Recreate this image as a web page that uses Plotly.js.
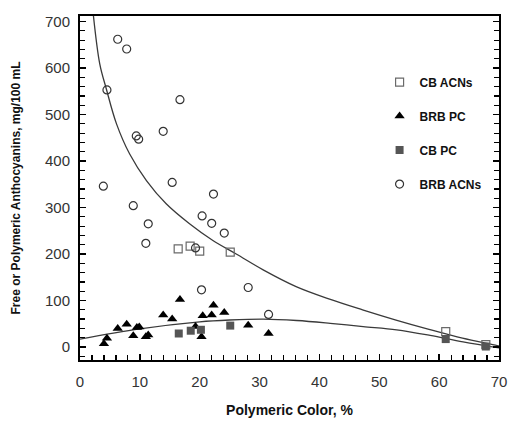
<!DOCTYPE html>
<html>
<head>
<meta charset="utf-8">
<script src="https://cdn.plot.ly/plotly-3.0.1.min.js"></script>
<style>html,body{margin:0;padding:0;background:#fff}#chart{width:508px;height:425px}</style>
</head>
<body>
<div id="chart"></div>
<script>
// CB ACNs (open squares)
const cbAcnX = [16.4, 18.4, 20.0, 25.1, 61.1, 67.8];
const cbAcnY = [211, 217, 206, 204, 33, 5];
// BRB PC (filled triangles)
const brbPcX = [4.0, 4.5, 6.3, 7.8, 8.9, 9.5, 9.9, 11.0, 11.4, 13.9, 15.4, 16.7, 19.3, 20.3, 20.5, 22.0, 22.3, 24.1, 28.1, 31.5];
const brbPcY = [7, 19, 40, 49, 24, 42, 43, 22, 26, 69, 60, 102, 44, 22, 67, 69, 90, 74, 47, 29];
// CB PC (filled squares)
const cbPcX = [16.5, 18.5, 20.2, 25.1, 61.1, 67.8];
const cbPcY = [29, 35, 37, 46, 17, 1];
// BRB ACNs (open circles)
const brbAcnX = [6.3, 7.8, 4.5, 16.7, 9.4, 9.8, 13.9, 3.9, 15.4, 22.3, 8.9, 20.4, 22.0, 11.4, 24.1, 11.0, 19.3, 20.3, 28.1, 31.5];
const brbAcnY = [662, 641, 553, 532, 454, 447, 464, 346, 354, 329, 304, 282, 266, 265, 245, 223, 213, 123, 128, 70];
// fitted curves
const fitUpX = [2.1, 3.3, 4.4, 6.1, 8.3, 11.1, 14.4, 18.3, 22.2, 26.1, 30.6, 36.1, 41.7, 47.2, 52.8, 58.3, 63.9, 69.4, 70];
const fitUpY = [730, 609, 555, 480, 415, 358, 308, 265, 229, 200, 166, 130, 103, 80, 58, 38, 19, 4, 2];
const fitLowX = [0, 10, 20, 25, 30.6, 36.2, 41.8, 47.3, 52.9, 58.5, 64.0, 70];
const fitLowY = [17, 39, 54, 58, 60, 57, 51, 44, 37, 25, 11, -2];

const traces = [
  {x: fitUpX, y: fitUpY, mode: 'lines', line: {color: '#3a3a3a', width: 1.3, shape: 'spline'}, showlegend: false, hoverinfo: 'skip'},
  {x: fitLowX, y: fitLowY, mode: 'lines', line: {color: '#3a3a3a', width: 1.3, shape: 'spline'}, showlegend: false, hoverinfo: 'skip'},
  {x: cbAcnX, y: cbAcnY, mode: 'markers', name: 'CB ACNs', legendgroup: 'a',
   marker: {symbol: 'square-open', size: 8, color: '#6a6a6a', line: {width: 1.2}}},
  {x: brbPcX, y: brbPcY, mode: 'markers', name: 'BRB PC', legendgroup: 'b',
   marker: {symbol: 'triangle-up', size: 9, color: '#000'}},
  {x: cbPcX, y: cbPcY, mode: 'markers', name: 'CB PC', legendgroup: 'c',
   marker: {symbol: 'square', size: 8, color: '#555'}},
  {x: brbAcnX, y: brbAcnY, mode: 'markers', name: 'BRB ACNs', legendgroup: 'd',
   marker: {symbol: 'circle-open', size: 8, color: '#333', line: {width: 1.2}}}
];

const layout = {
  width: 508, height: 425,
  margin: {l: 80, r: 9, t: 16, b: 65},
  paper_bgcolor: '#fff', plot_bgcolor: '#fff',
  font: {family: 'Liberation Sans, Arial, sans-serif', color: '#222'},
  showlegend: true,
  legend: {x: 0.715, y: 0.85, xanchor: 'left', yanchor: 'top', tracegroupgap: 15,
           bgcolor: 'rgba(0,0,0,0)', font: {size: 12, color: '#111', weight: 'bold'}},
  xaxis: {
    range: [0, 70], dtick: 10, tick0: 0, showgrid: false, zeroline: false,
    showline: true, linecolor: '#000', linewidth: 2, mirror: true,
    ticks: 'inside', ticklen: 6, tickwidth: 1.5, tickcolor: '#000',
    minor: {dtick: 2, ticks: 'inside', ticklen: 5, tickwidth: 1.2, tickcolor: '#000', showgrid: false},
    tickfont: {size: 15, color: '#333'}, ticklabelstandoff: 7,
    title: {text: 'Polymeric Color, %', font: {size: 14, color: '#111', weight: 'bold'}, standoff: 16}
  },
  yaxis: {
    range: [-28, 712], dtick: 100, tick0: 0, showgrid: false, zeroline: false,
    showline: true, linecolor: '#000', linewidth: 2, mirror: 'allticks',
    ticks: 'inside', ticklen: 6, tickwidth: 1.5, tickcolor: '#000',
    minor: {dtick: 20, ticks: 'inside', ticklen: 5, tickwidth: 1.2, tickcolor: '#000', showgrid: false},
    tickfont: {size: 15, color: '#333'}, ticklabelstandoff: 5,
    title: {text: 'Free or Polymeric Anthocyanins, mg/100 mL', font: {size: 12, color: '#111', weight: 'bold'}, standoff: 22}
  }
};

Plotly.newPlot('chart', traces, layout, {displayModeBar: false, staticPlot: true});
</script>
</body>
</html>
